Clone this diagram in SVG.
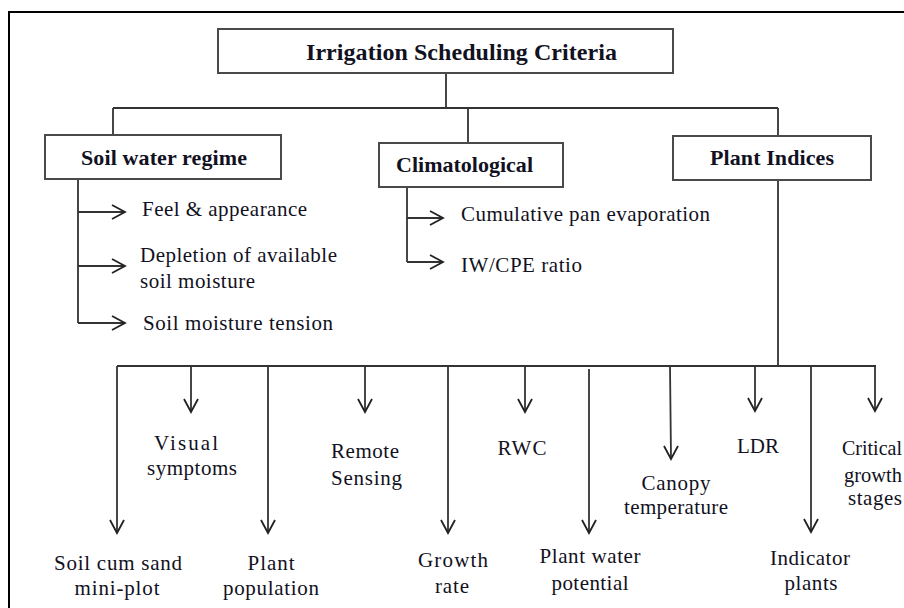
<svg xmlns="http://www.w3.org/2000/svg" width="904" height="608" viewBox="0 0 904 608">
<style>
.box{fill:#fff;stroke:#4a4a4a;stroke-width:2}
.ln{fill:none;stroke:#333;stroke-width:1.8}
.ah{fill:none;stroke:#222;stroke-width:1.8;stroke-linejoin:miter}
.b{font-family:"Liberation Serif","Times New Roman",serif;font-weight:bold;fill:#111122}
.t{font-family:"Liberation Serif","Times New Roman",serif;font-size:21px;fill:#111122}
.c{text-anchor:middle}
</style>
<rect x="0" y="0" width="904" height="608" fill="#fff"/>
<rect x="9" y="12" width="910" height="620" fill="none" stroke="#000" stroke-width="2"/>

<g id="connectors">
  <path class="ln" d="M446 73V108M113 108H778M113 108V135M468 108V143M778 108V136"/>
  <path class="ln" d="M78 179V323M78 212H124M78 266H124M78 323H124"/>
  <path class="ah" d="M112 205L125 212L112 219M112 259L125 266L112 273M112 316L125 323L112 330"/>
  <path class="ln" d="M407 187V262M407 218H442M407 262H442"/>
  <path class="ah" d="M430 211L443 218L430 225M430 255L443 262L430 269"/>
  <path class="ln" d="M778 180V366M117 366H876"/>
  <path class="ln" d="M117 366V532M191 366V411M268 366V532M365 366V411M448 366V532M525 366V411M589 369V532M670 366L671 458M755 366V410M811 366V531M875 366V410"/>
  <path class="ah" d="M110 520L117 533L124 520M184 399L191 412L198 399M261 520L268 533L275 520M358 399L365 412L372 399M441 520L448 533L455 520M518 399L525 412L532 399M582 520L589 533L596 520M664 446L671 459L678 446M748 398L755 411L762 398M804 519L811 532L818 519M868 398L875 411L882 398"/>
</g>

<g id="title">
  <rect class="box" x="218" y="29" width="455" height="44"/>
  <text class="b" x="306" y="60" font-size="24" textLength="311" lengthAdjust="spacing">Irrigation Scheduling Criteria</text>
</g>
<g id="soil">
  <rect class="box" x="45" y="135" width="236" height="44"/>
  <text class="b" x="81" y="165" font-size="22" textLength="166" lengthAdjust="spacing">Soil water regime</text>
</g>
<g id="clim">
  <rect class="box" x="379" y="143" width="184" height="44"/>
  <text class="b" x="396" y="172" font-size="22" textLength="137" lengthAdjust="spacing">Climatological</text>
</g>
<g id="plant">
  <rect class="box" x="673" y="136" width="198" height="44"/>
  <text class="b" x="710" y="165" font-size="22" textLength="124" lengthAdjust="spacing">Plant Indices</text>
</g>

<g id="feel"><text class="t" x="142" y="216" textLength="165" lengthAdjust="spacing">Feel &amp; appearance</text></g>
<g id="depletion">
  <text class="t" x="140" y="262" textLength="197" lengthAdjust="spacing">Depletion of available</text>
  <text class="t" x="140" y="288" textLength="115" lengthAdjust="spacing">soil moisture</text>
</g>
<g id="tension"><text class="t" x="143" y="330" textLength="190" lengthAdjust="spacing">Soil moisture tension</text></g>
<g id="cpe"><text class="t" x="461" y="221" textLength="249" lengthAdjust="spacing">Cumulative pan evaporation</text></g>
<g id="iwcpe"><text class="t" x="461" y="272" textLength="121" lengthAdjust="spacing">IW/CPE ratio</text></g>

<g id="soilcum">
  <text class="t c" x="118" y="570" textLength="128" lengthAdjust="spacing">Soil cum sand</text>
  <text class="t c" x="117" y="595" textLength="85" lengthAdjust="spacing">mini-plot</text>
</g>
<g id="visual">
  <text class="t c" x="186" y="450" textLength="64" lengthAdjust="spacing">Visual</text>
  <text class="t c" x="192" y="475" textLength="90" lengthAdjust="spacing">symptoms</text>
</g>
<g id="population">
  <text class="t c" x="271" y="570" textLength="47" lengthAdjust="spacing">Plant</text>
  <text class="t c" x="271" y="595" textLength="96" lengthAdjust="spacing">population</text>
</g>
<g id="remote">
  <text class="t" x="331" y="458" textLength="68" lengthAdjust="spacing">Remote</text>
  <text class="t" x="331" y="485" textLength="71" lengthAdjust="spacing">Sensing</text>
</g>
<g id="growth">
  <text class="t c" x="453" y="567" textLength="70" lengthAdjust="spacing">Growth</text>
  <text class="t c" x="452" y="593" textLength="34" lengthAdjust="spacing">rate</text>
</g>
<g id="rwc"><text class="t c" x="522" y="455" textLength="49" lengthAdjust="spacing">RWC</text></g>
<g id="pwp">
  <text class="t c" x="590" y="563" textLength="101" lengthAdjust="spacing">Plant water</text>
  <text class="t c" x="590" y="590" textLength="77" lengthAdjust="spacing">potential</text>
</g>
<g id="canopy">
  <text class="t c" x="676" y="490" textLength="69" lengthAdjust="spacing">Canopy</text>
  <text class="t c" x="676" y="514" textLength="104" lengthAdjust="spacing">temperature</text>
</g>
<g id="ldr"><text class="t c" x="758" y="453" textLength="42" lengthAdjust="spacing">LDR</text></g>
<g id="indicator">
  <text class="t c" x="810" y="565" textLength="80" lengthAdjust="spacing">Indicator</text>
  <text class="t c" x="811" y="590" textLength="53" lengthAdjust="spacing">plants</text>
</g>
<g id="critical">
  <text class="t" x="842" y="455" textLength="60" lengthAdjust="spacingAndGlyphs">Critical</text>
  <text class="t" x="844" y="482" textLength="58" lengthAdjust="spacingAndGlyphs">growth</text>
  <text class="t c" x="875" y="505" textLength="54" lengthAdjust="spacing">stages</text>
</g>
</svg>
